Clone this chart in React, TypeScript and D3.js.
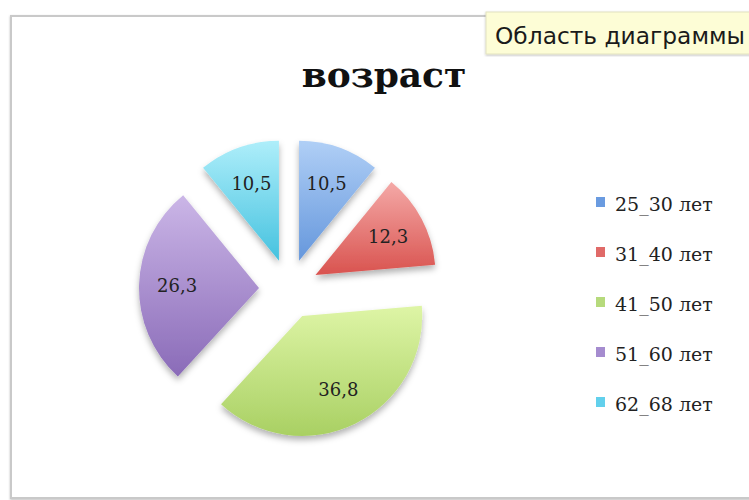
import React from "react";
import * as d3 from "d3";

const categories = ["25_30 лет", "31_40 лет", "41_50 лет", "51_60 лет", "62_68 лет"];
const values = [10.5, 12.3, 36.8, 26.3, 10.5];
const labels = ["10,5", "12,3", "36,8", "26,3", "10,5"];
const topColors = ["#b0cff6", "#f4a9a7", "#def5a6", "#cbb6e7", "#aeeefa"];
const bottomColors = ["#6597dc", "#d9534f", "#a9d063", "#8a6bb8", "#45c2df"];
const legendColors = ["#6a9be0", "#e06a68", "#b6da7c", "#a58ccf", "#62d0ec"];

const W = 749;
const H = 500;
const cx = 289;
const cy = 289;
const R = 120;
const EXPLODE = 30;
const LABEL_R = 82;

export default function App() {
  const pie = d3.pie<number>().sort(null).value((d) => d)(values);
  const arc = d3.arc<d3.PieArcDatum<number>>().innerRadius(0).outerRadius(R);
  const labelArc = d3.arc<d3.PieArcDatum<number>>().innerRadius(LABEL_R).outerRadius(LABEL_R);

  const legendY = d3.scalePoint<string>().domain(categories).range([202, 402]);

  return (
    <svg
      width={W}
      height={H}
      style={{ position: "absolute", left: 0, top: 0, background: "#fff" }}
      xmlns="http://www.w3.org/2000/svg"
    >
      <defs>
        {values.map((_, i) => (
          <linearGradient key={i} id={`g${i}`} x1="0" y1="0" x2="0" y2="1">
            <stop offset="0%" stopColor={topColors[i]} />
            <stop offset="100%" stopColor={bottomColors[i]} />
          </linearGradient>
        ))}
        <filter id="shadow" x="-20%" y="-20%" width="140%" height="150%">
          <feDropShadow dx="0" dy="4" stdDeviation="3" floodColor="#000" floodOpacity="0.3" />
        </filter>
        <filter id="bshadow" x="-5%" y="-5%" width="110%" height="110%">
          <feDropShadow dx="0" dy="1" stdDeviation="1.2" floodColor="#000" floodOpacity="0.25" />
        </filter>
      </defs>

      {/* chart area border */}
      <rect x={11} y={16} width={760} height={482} fill="#fff" stroke="#c9c9c9" strokeWidth={2} filter="url(#bshadow)" />

      {/* title */}
      <text
        x={384}
        y={87}
        textAnchor="middle"
        fontFamily="'DejaVu Serif', serif"
        fontWeight="bold"
        fontSize={36}
        fill="#111"
      >
        возраст
      </text>

      {/* pie */}
      {pie.map((d, i) => {
        const mid = (d.startAngle + d.endAngle) / 2;
        const ox = Math.sin(mid) * EXPLODE;
        const oy = -Math.cos(mid) * EXPLODE;
        const [lx, ly] = labelArc.centroid(d);
        return (
          <g key={i} transform={`translate(${cx + ox},${cy + oy})`}>
            <path d={arc(d) || ""} fill={`url(#g${i})`} filter="url(#shadow)" />
            <text
              x={lx}
              y={ly}
              textAnchor="middle"
              dominantBaseline="central"
              fontFamily="'DejaVu Serif', serif"
              fontSize={18}
              fill="#222"
            >
              {labels[i]}
            </text>
          </g>
        );
      })}

      {/* legend */}
      {categories.map((c, i) => {
        const y = legendY(c) as number;
        return (
          <g key={c}>
            <rect x={596} y={y - 5} width={9} height={10} fill={legendColors[i]} />
            <text
              x={615}
              y={y + 9}
              fontFamily="'DejaVu Serif', serif"
              fontSize={19}
              fill="#222"
            >
              {c}
            </text>
          </g>
        );
      })}

      {/* tooltip */}
      <g filter="url(#bshadow)">
        <rect x={486} y={12} width={280} height={42} fill="#fdfdd6" stroke="#e2e2c0" strokeWidth={1} />
      </g>
      <text
        x={495}
        y={44}
        fontFamily="'DejaVu Sans', sans-serif"
        fontSize={23}
        textLength={250}
        lengthAdjust="spacingAndGlyphs"
        fill="#1a1a1a"
      >
        Область диаграммы
      </text>
    </svg>
  );
}
